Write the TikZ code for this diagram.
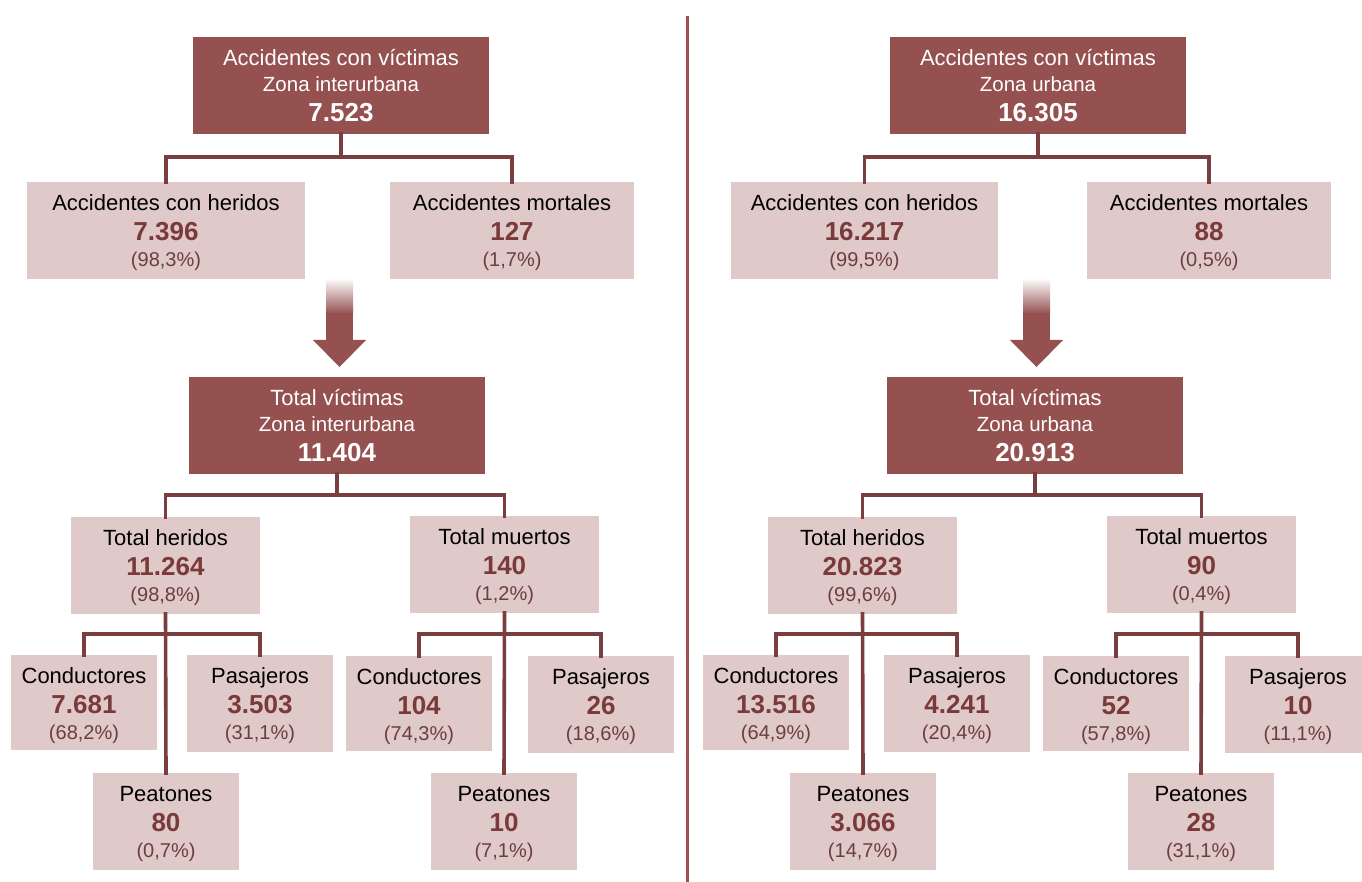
\documentclass[tikz,border=0pt]{standalone}
\usepackage{fontspec}
\setmainfont{Liberation Sans}
\definecolor{darkc}{RGB}{149,80,80}
\definecolor{lightc}{RGB}{224,201,201}
\definecolor{linec}{RGB}{122,62,62}
\definecolor{numc}{RGB}{122,58,58}
\definecolor{pctc}{RGB}{108,62,62}
\definecolor{divc}{RGB}{160,82,82}
\tikzset{
  lightbox/.style={fill=lightc, draw=none, inner sep=0pt, outer sep=0pt},
  darkbox/.style={fill=darkc, draw=none, inner sep=0pt, outer sep=0pt},
  ttl/.style={font=\fontsize{22}{22}\selectfont, text=black, inner sep=0pt, text height=15.8pt, text depth=0pt},
  num/.style={font=\fontsize{26}{26}\selectfont\bfseries, text=numc, inner sep=0pt, text height=18.6pt, text depth=0pt},
  pct/.style={font=\fontsize{20}{20}\selectfont, text=pctc, inner sep=0pt, text height=14.3pt, text depth=0pt},
  dttl/.style={font=\fontsize{22}{22}\selectfont, text=white, inner sep=0pt, text height=15.8pt, text depth=0pt},
  dsub/.style={font=\fontsize{20.5}{20.5}\selectfont, text=white, inner sep=0pt, text height=14.7pt, text depth=0pt},
  dnum/.style={font=\fontsize{26}{26}\selectfont\bfseries, text=white, inner sep=0pt, text height=18.6pt, text depth=0pt},
  conn/.style={draw=linec, line width=3.6pt, line cap=rect},
}
% light box: name, x centre, y top, width, height, title, number, percent
\newcommand{\LB}[8]{%
  \node[lightbox, minimum width=#4pt, minimum height=#5pt, anchor=north] (#1) at (#2,-#3) {};
  \node[ttl] (#1-t) at ([yshift=-20.5pt]#1.north) {#6};
  \node[num] (#1-n) at ([yshift=-49.5pt]#1.north) {#7};
  \node[pct] (#1-p) at ([yshift=-77pt]#1.north) {#8};
}
% dark box: name, x centre, y top, width, height, title, subtitle, number
\newcommand{\DB}[8]{%
  \node[darkbox, minimum width=#4pt, minimum height=#5pt, anchor=north] (#1) at (#2,-#3) {};
  \node[dttl] (#1-t) at ([yshift=-21pt]#1.north) {#6};
  \node[dsub] (#1-s) at ([yshift=-47pt]#1.north) {#7};
  \node[dnum] (#1-n) at ([yshift=-75pt]#1.north) {#8};
}
% arrow: x left shaft, x right shaft, head left, head right, tip x
\newcommand{\ARR}[5]{%
  \shade[top color=white, bottom color=darkc] (#1,-278) rectangle (#2,-314);
  \fill[darkc] (#1,-313.5) rectangle (#2,-341);
  \fill[darkc] (#3,-340) -- (#4,-340) -- (#5,-367) -- cycle;
}
\begin{document}
\begin{tikzpicture}[x=1pt,y=1pt]
\useasboundingbox (0,0) rectangle (1362,-882);
\clip (0,0) rectangle (1362,-882);
\fill[white] (0,0) rectangle (1362,-882);

% divider
\draw[divc, line width=3pt] (687,-16) -- (687,-882);

% ================= LEFT =================
\DB{A1}{341}{37}{296}{97}{Accidentes con víctimas}{Zona interurbana}{7.523}
\LB{ah}{166}{182}{278}{97}{Accidentes con heridos}{7.396}{(98,3\%)}
\LB{am}{512}{182}{244}{97}{Accidentes mortales}{127}{(1,7\%)}
\ARR{326}{353}{313}{366}{339.5}
\DB{TV}{337}{377}{296}{97}{Total víctimas}{Zona interurbana}{11.404}
\LB{TH}{165.5}{517}{189}{97}{Total heridos}{11.264}{(98,8\%)}
\LB{TM}{504.5}{516}{189}{97}{Total muertos}{140}{(1,2\%)}
\LB{C}{84}{655}{146}{95}{Conductores}{7.681}{(68,2\%)}
\LB{P}{260}{655}{146}{97}{Pasajeros}{3.503}{(31,1\%)}
\LB{Pe}{166}{773}{146}{97}{Peatones}{80}{(0,7\%)}
\LB{Cm}{419}{656}{146}{95}{Conductores}{104}{(74,3\%)}
\LB{Pm}{601}{656}{146}{97}{Pasajeros}{26}{(18,6\%)}
\LB{Pem}{504}{773}{146}{97}{Peatones}{10}{(7,1\%)}

\coordinate (A1j) at (A1.south |- 0,-157);
\draw[conn] (A1.south) -- (A1j);
\draw[conn] (ah.north) |- (A1j) -| (am.north);
\coordinate (TVj) at (TV.south |- 0,-495);
\draw[conn] (TV.south) -- (TVj);
\draw[conn] (TH.north) |- (TVj) -| (TM.north);
\coordinate (THj) at (TH.south |- 0,-634);
\draw[conn] (TH.south) -- (Pe.north);
\draw[conn] (C.north) |- (THj) -| (P.north);
\coordinate (TMj) at (TM.south |- 0,-634);
\draw[conn] (TM.south) -- (Pem.north);
\draw[conn] (Cm.north) |- (TMj) -| (Pm.north);

% ================= RIGHT =================
\DB{B1}{1038}{37}{296}{97}{Accidentes con víctimas}{Zona urbana}{16.305}
\LB{bh}{864.5}{182}{267}{97}{Accidentes con heridos}{16.217}{(99,5\%)}
\LB{bm}{1209}{182}{244}{97}{Accidentes mortales}{88}{(0,5\%)}
\ARR{1023}{1050}{1010}{1063}{1036.5}
\DB{RV}{1035}{377}{296}{97}{Total víctimas}{Zona urbana}{20.913}
\LB{RH}{862.5}{517}{189}{97}{Total heridos}{20.823}{(99,6\%)}
\LB{RM}{1201.5}{516}{189}{97}{Total muertos}{90}{(0,4\%)}
\LB{Cr}{776}{655}{146}{95}{Conductores}{13.516}{(64,9\%)}
\LB{Pr}{957}{655}{146}{97}{Pasajeros}{4.241}{(20,4\%)}
\LB{Per}{863}{773}{146}{97}{Peatones}{3.066}{(14,7\%)}
\LB{Cmr}{1116}{656}{146}{95}{Conductores}{52}{(57,8\%)}
\LB{Pmr}{1298}{656}{146}{97}{Pasajeros}{10}{(11,1\%)}
\LB{Pemr}{1201}{773}{146}{97}{Peatones}{28}{(31,1\%)}

\coordinate (B1j) at (B1.south |- 0,-157);
\draw[conn] (B1.south) -- (B1j);
\draw[conn] (bh.north) |- (B1j) -| (bm.north);
\coordinate (RVj) at (RV.south |- 0,-495);
\draw[conn] (RV.south) -- (RVj);
\draw[conn] (RH.north) |- (RVj) -| (RM.north);
\coordinate (RHj) at (RH.south |- 0,-634);
\draw[conn] (RH.south) -- (Per.north);
\draw[conn] (Cr.north) |- (RHj) -| (Pr.north);
\coordinate (RMj) at (RM.south |- 0,-634);
\draw[conn] (RM.south) -- (Pemr.north);
\draw[conn] (Cmr.north) |- (RMj) -| (Pmr.north);
\end{tikzpicture}
\end{document}
